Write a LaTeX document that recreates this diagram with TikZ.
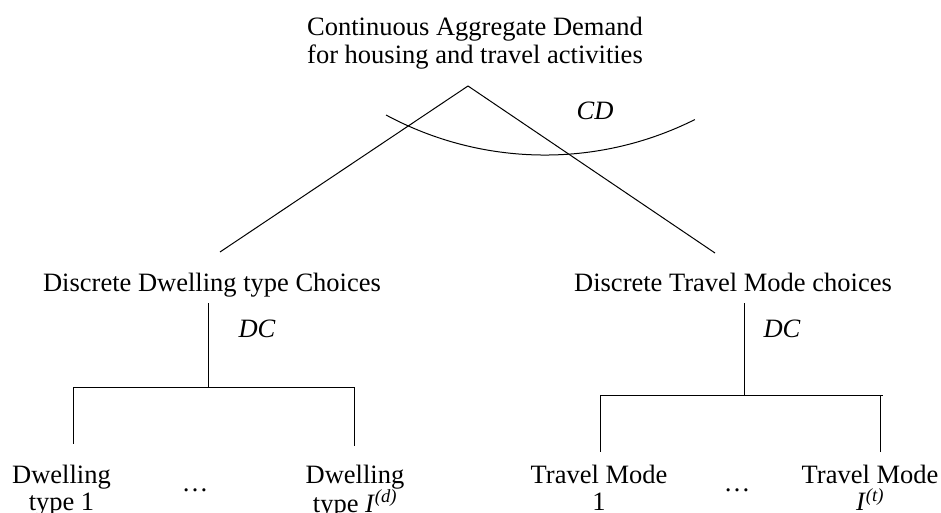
\documentclass[tikz,border=0pt]{standalone}
\usepackage{fontspec}
\setmainfont{Liberation Serif}
\usepackage{tikz}

\begin{document}
\begin{tikzpicture}[x=1pt,y=1pt]
            \useasboundingbox (0,0) rectangle (941,-513);

            \begin{scope}[every node/.style={inner sep=0pt,align=center,font=\fontsize{26.5}{27.6}\selectfont}]
                \node (Top) [anchor=north] at (475,-17.2) {Continuous Aggregate Demand\\for housing and travel activities};
                \node (Dwell) [anchor=base] at (212,-291) {Discrete Dwelling type Choices};
                \node (Mode) [anchor=base] at (733,-291) {Discrete Travel Mode choices};
            \end{scope}

            \begin{scope}[every node/.style={inner sep=0pt,align=center,font=\fontsize{26.5}{27.4}\selectfont}]
                \node (D1) [anchor=north] at (61.5,-464.8) {Dwelling\\type 1};
                \node (Dn) [anchor=north] at (355,-464.8) {Dwelling\\type \textit{I}\textsuperscript{\textit{(d)}}};
                \node (M1) [anchor=north] at (599,-464.8) {Travel Mode\\1};
                \node (Mn) [anchor=north] at (870,-464.8) {Travel Mode\\\textit{I}\textsuperscript{\textit{(t)}}};
                \node (Ddots) [anchor=base] at (195,-491.5) {\ldots};
                \node (Mdots) [anchor=base] at (737,-491.5) {\ldots};
            \end{scope}

            \begin{scope}[every node/.style={inner sep=0pt,font=\fontsize{26.5}{27.6}\selectfont\itshape}]
                \node (CD) [anchor=base] at (595,-120) {CD};
                \node (DCd) [anchor=base] at (257,-337) {DC};
                \node (DCm) [anchor=base] at (782,-337) {DC};
            \end{scope}

            % junction points
            \coordinate (apex) at (468,-86);
            \coordinate (apexL) at (220,-252);
            \coordinate (apexR) at (715,-253);
            \coordinate (arcL) at (386,-115);
            \coordinate (Dtop) at (208,-303);
            \coordinate (Dbar) at (208,-387);
            \coordinate (DbarL) at (73,-387);
            \coordinate (DbarR) at (354,-387);
            \coordinate (D1top) at (73,-444);
            \coordinate (Dntop) at (354,-446);
            \coordinate (Mtop) at (744,-303);
            \coordinate (Mbar) at (744,-395);
            \coordinate (MbarL) at (600,-395);
            \coordinate (MbarR) at (883,-395);
            \coordinate (M1top) at (600,-452);
            \coordinate (Mntop) at (880,-452);

            \begin{scope}[every edge/.style={draw=black,line width=1pt}]
                \path (apex) edge (apexL);
                \path (apex) edge (apexR);
                \path (Dtop) edge (Dbar);
                \path (DbarL) edge (DbarR);
                \path (DbarL) edge (D1top);
                \path (DbarR) edge (Dntop);
                \path (Mtop) edge (Mbar);
                \path (MbarL) edge (MbarR);
                \path (MbarL) edge (M1top);
                \path (Mntop) edge (Mntop |- MbarR);
            \end{scope}

            \draw [line width=1pt] (arcL) arc[start angle=241.7, end angle=296.6, radius=335pt];
        \end{tikzpicture}
\end{document}
